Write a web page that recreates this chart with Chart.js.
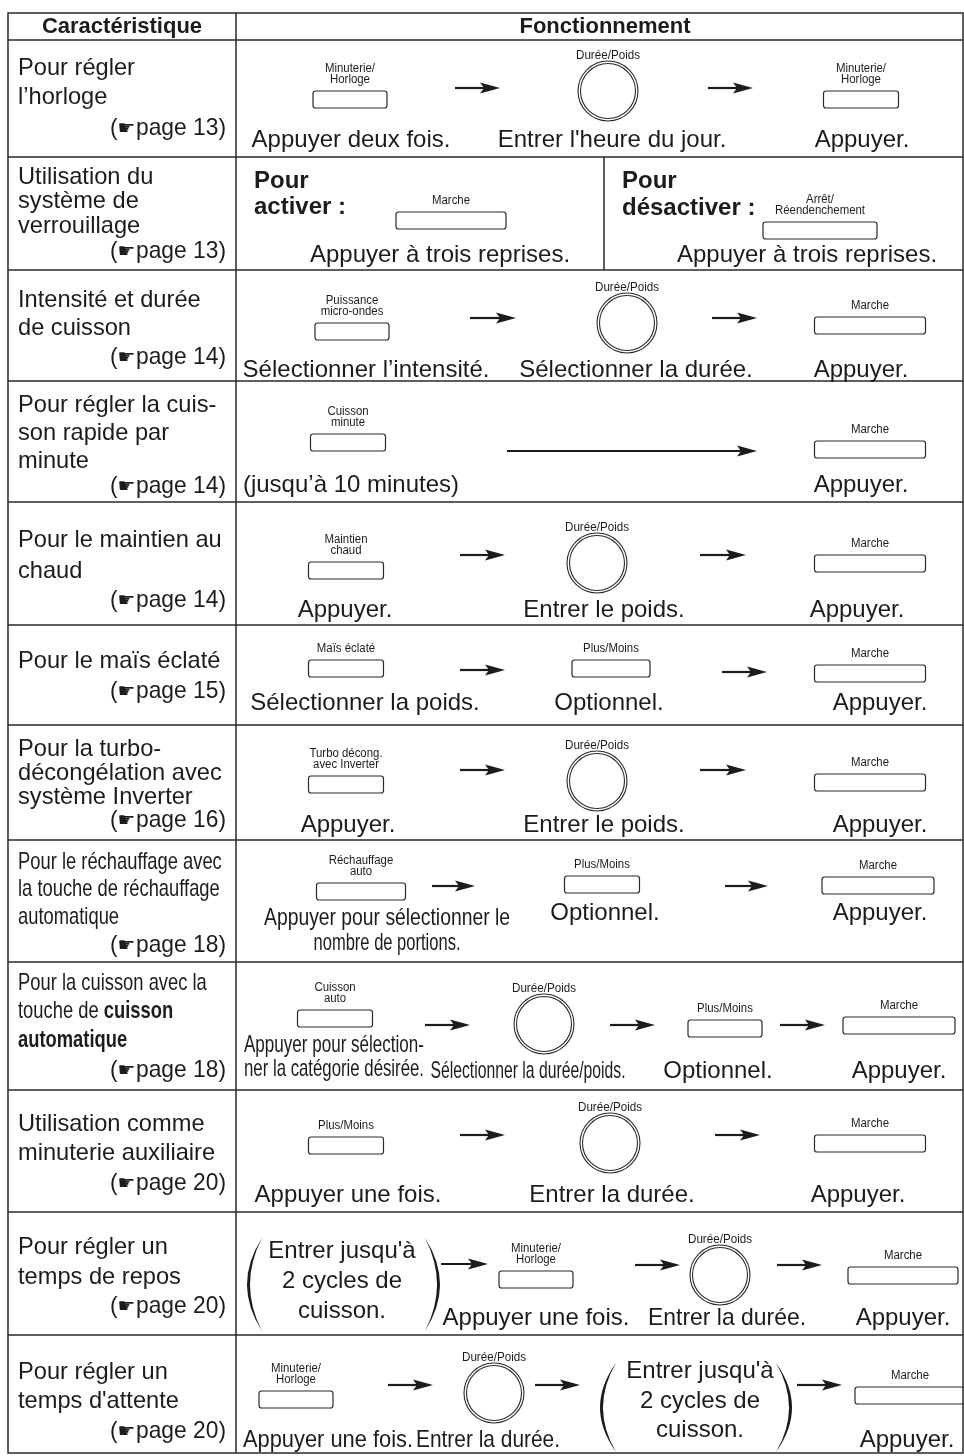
<!DOCTYPE html>
<html>
<head>
<meta charset="utf-8">
<script src="https://cdn.jsdelivr.net/npm/chart.js@4/dist/chart.umd.min.js"></script>
<style>
  html, body { margin: 0; padding: 0; background: #fff; }
  canvas { display: block; }
</style>
</head>
<body>
<canvas id="c" width="964" height="1456"></canvas>
<script>
// column 1 : feature names and page references
var features = [
  ['Pour régler', 'l’horloge'],
  ['Utilisation du', 'système de', 'verrouillage'],
  ['Intensité et durée', 'de cuisson'],
  ['Pour régler la cuis-', 'son rapide par', 'minute'],
  ['Pour le maintien au', 'chaud'],
  ['Pour le maïs éclaté'],
  ['Pour la turbo-', 'décongélation avec', 'système Inverter'],
  ['Pour le réchauffage avec', 'la touche de réchauffage', 'automatique'],
  ['Pour la cuisson avec la', 'touche de **cuisson**', '**automatique**'],
  ['Utilisation comme', 'minuterie auxiliaire'],
  ['Pour régler un', 'temps de repos'],
  ['Pour régler un', 'temps d\'attente']
];
var pages = ['13', '13', '14', '14', '14', '15', '16', '18', '18', '20', '20', '20'];
var headers = ['Caractéristique', 'Fonctionnement'];

// layout of the table (in the chart's own x / y units)
var rowEdges = [40, 157, 270, 381, 502, 625, 725, 840, 962, 1090, 1212, 1335, 1453];
var featY = [68, 177, 300, 405, 540, 661, 749, 862, 983, 1124, 1247, 1372];
var featGap = [29, 24.5, 28, 28, 31, 0, 24, 27.5, 28.5, 29, 30, 29];
var featSx = [0.985, 0.985, 0.985, 0.985, 0.985, 0.985, 0.985, 0.765, 0.765, 0.985, 0.985, 0.985];
var pageY = [128, 251, 357, 486, 600, 691, 820, 945, 1070, 1183, 1306, 1431];

var INK = '#1c1c1c';
var LINE = '#2a2a2a';
var FONT = "'Liberation Sans', Arial, 'DejaVu Sans', sans-serif";

// element builders
function B(x, y, w, label) { return { k: 'btn', x: x, y: y, w: w, label: label }; }
function A(x0, x1, y) { return { k: 'arrow', x0: x0, x1: x1, y: y }; }
function K(x, y) { return { k: 'knob', x: x, y: y, label: 'Durée/Poids' }; }
function C(x, y, s, fit) { return { k: 'cap', x: x, y: y, s: s, fit: fit }; }
function T(x, y, s, o) { return { k: 'txt', x: x, y: y, s: s, o: o || {} }; }
function P(x0, x1, t, b, side) { return { k: 'paren', x0: x0, x1: x1, t: t, b: b, side: side }; }

var boldL = { bold: true, align: 'left', size: 24 };

// column 2 : operating steps, one list per row
var steps = [
  [B(350, 91, 74, ['Minuterie/', 'Horloge']), A(455, 500, 88), K(608, 91), A(708, 753, 88),
   B(861, 91, 75, ['Minuterie/', 'Horloge']),
   C(351, 140, 'Appuyer deux fois.'), C(612, 140, 'Entrer l\'heure du jour.'), C(862, 140, 'Appuyer.')],
  [T(254, 181, 'Pour', boldL), T(254, 207, 'activer :', boldL),
   B(451, 212, 110, ['Marche']), C(440, 255, 'Appuyer à trois reprises.'),
   T(622, 181, 'Pour', boldL), T(622, 208, 'désactiver :', boldL),
   B(820, 222, 114, ['Arrêt/', 'Réendenchement']), C(807, 255, 'Appuyer à trois reprises.')],
  [B(352, 323, 74, ['Puissance', 'micro-ondes']), A(470, 516, 318), K(627, 323), A(712, 757, 318),
   B(870, 317, 111, ['Marche']),
   C(366, 370, 'Sélectionner l’intensité.'), C(636, 370, 'Sélectionner la durée.'), C(861, 370, 'Appuyer.')],
  [B(348, 434, 75, ['Cuisson', 'minute']), A(507, 757, 451), B(870, 441, 111, ['Marche']),
   C(351, 485, '(jusqu’à 10 minutes)'), C(861, 485, 'Appuyer.')],
  [B(346, 562, 75, ['Maintien', 'chaud']), A(460, 505, 555), K(597, 563), A(700, 746, 555),
   B(870, 555, 111, ['Marche']),
   C(345, 610, 'Appuyer.'), C(604, 610, 'Entrer le poids.'), C(857, 610, 'Appuyer.')],
  [B(346, 660, 75, ['Maïs éclaté']), A(460, 505, 670), B(611, 660, 78, ['Plus/Moins']), A(722, 767, 672),
   B(870, 665, 111, ['Marche']),
   C(365, 703, 'Sélectionner la poids.'), C(609, 703, 'Optionnel.'), C(880, 703, 'Appuyer.')],
  [B(346, 776, 75, ['Turbo décong.', 'avec Inverter']), A(460, 505, 770), K(597, 781), A(700, 746, 770),
   B(870, 774, 111, ['Marche']),
   C(348, 825, 'Appuyer.'), C(604, 825, 'Entrer le poids.'), C(880, 825, 'Appuyer.')],
  [B(361, 883, 89, ['Réchauffage', 'auto']), A(432, 475, 886), B(602, 876, 75, ['Plus/Moins']), A(725, 768, 886),
   B(878, 877, 112, ['Marche']),
   C(387, 918, 'Appuyer pour sélectionner le', 246), C(387, 943, 'nombre de portions.', 147),
   C(605, 913, 'Optionnel.'), C(880, 913, 'Appuyer.')],
  [B(335, 1010, 75, ['Cuisson', 'auto']), A(425, 470, 1025), K(544, 1024), A(610, 655, 1025),
   B(725, 1020, 74, ['Plus/Moins']), A(780, 825, 1025), B(899, 1017, 112, ['Marche']),
   C(334, 1045, 'Appuyer pour sélection-', 180), C(334, 1069, 'ner la catégorie désirée.', 180),
   C(528, 1071, 'Sélectionner la durée/poids.', 195), C(718, 1071, 'Optionnel.'), C(899, 1071, 'Appuyer.')],
  [B(346, 1137, 75, ['Plus/Moins']), A(460, 505, 1135), K(610, 1143), A(715, 760, 1135),
   B(870, 1135, 111, ['Marche']),
   C(348, 1195, 'Appuyer une fois.'), C(612, 1195, 'Entrer la durée.'), C(858, 1195, 'Appuyer.')],
  [P(247, 262, 1238, 1331, 'l'), P(425, 440, 1238, 1331, 'r'),
   C(342, 1251, 'Entrer jusqu\'à'), C(342, 1281, '2 cycles de'), C(342, 1311, 'cuisson.'),
   A(441, 488, 1264), B(536, 1271, 74, ['Minuterie/', 'Horloge']), A(635, 680, 1265), K(720, 1275),
   A(777, 822, 1265), B(903, 1267, 110, ['Marche']),
   C(536, 1318, 'Appuyer une fois.', 187), C(727, 1318, 'Entrer la durée.', 158), C(903, 1318, 'Appuyer.')],
  [B(296, 1391, 74, ['Minuterie/', 'Horloge']), A(388, 433, 1385), K(494, 1393), A(535, 580, 1385),
   P(600, 616, 1363, 1452, 'l'), P(776, 792, 1363, 1452, 'r'),
   C(700, 1371, 'Entrer jusqu\'à'), C(700, 1401, '2 cycles de'), C(700, 1430, 'cuisson.'),
   A(797, 842, 1385), B(910, 1387, 110, ['Marche']),
   C(328, 1440, 'Appuyer une fois.', 170), C(488, 1440, 'Entrer la durée.', 144), C(907, 1440, 'Appuyer.')]
];

var knobs = [];
steps.forEach(function (row) {
  row.forEach(function (e) { if (e.k === 'knob') knobs.push({ x: e.x, y: e.y }); });
});

function drawText(ctx, s, x, y, size, o) {
  o = o || {};
  ctx.save();
  ctx.font = (o.bold ? 'bold ' : '') + size + 'px ' + FONT;
  ctx.textBaseline = 'middle';
  ctx.textAlign = 'left';
  ctx.fillStyle = INK;
  var w0 = ctx.measureText(s).width;
  var sx = o.fit ? o.fit / w0 : (o.sx || 1);
  var w = w0 * sx;
  var left = o.align === 'left' ? x : (o.align === 'right' ? x - w : x - w / 2);
  ctx.translate(left, y);
  ctx.scale(sx, 1);
  ctx.fillText(s, 0, 0);
  ctx.restore();
  return w;
}

// line with **bold** parts, left aligned
function drawRich(ctx, line, x, y, size, sx) {
  var parts = line.split('**');
  var cx = x;
  parts.forEach(function (p, i) {
    if (!p) return;
    cx += drawText(ctx, p, cx, y, size, { bold: i % 2 === 1, align: 'left', sx: sx });
  });
}

// "(☛page NN)" right aligned, the hand a bit smaller than the text
function drawPageRef(ctx, page, xr, y) {
  var w = drawText(ctx, 'page ' + page + ')', xr, y, 24, { align: 'right', sx: 0.95 });
  var x = xr - w;
  x -= drawText(ctx, '\u261B', x - 0.5, y + 1, 19, { align: 'right', sx: 1.05 }) + 0.5;
  drawText(ctx, '(', x, y, 24, { align: 'right', sx: 0.95 });
}

var tablePlugin = {
  id: 'tablePlugin',
  beforeDraw: function (chart) {
    var ctx = chart.ctx;
    ctx.save();
    ctx.fillStyle = '#fff';
    ctx.fillRect(0, 0, chart.width, chart.height);
    ctx.restore();
  },
  afterDraw: function (chart) {
    var ctx = chart.ctx;
    var xs = chart.scales.x, ys = chart.scales.y;
    var X = function (v) { return xs.getPixelForValue(v); };
    var Y = function (v) { return ys.getPixelForValue(v); };

    // grid
    ctx.save();
    ctx.strokeStyle = LINE;
    ctx.lineWidth = 1.5;
    ctx.strokeRect(X(8), Y(13), X(963) - X(8), Y(1453) - Y(13));
    ctx.beginPath();
    rowEdges.slice(0, -1).forEach(function (v) {
      ctx.moveTo(X(8), Y(v)); ctx.lineTo(X(963), Y(v));
    });
    ctx.moveTo(X(236), Y(13)); ctx.lineTo(X(236), Y(1453));
    ctx.moveTo(X(604), Y(157)); ctx.lineTo(X(604), Y(270));
    ctx.stroke();
    ctx.restore();

    // headers
    drawText(ctx, headers[0], X(122), Y(27), 22, { bold: true });
    drawText(ctx, headers[1], X(605), Y(27), 22, { bold: true });

    // column 1
    features.forEach(function (lines, i) {
      lines.forEach(function (line, j) {
        drawRich(ctx, line, X(18), Y(featY[i] + j * featGap[i]), 24, featSx[i]);
      });
      drawPageRef(ctx, pages[i], X(226), Y(pageY[i]));
    });

    // column 2
    steps.forEach(function (row) {
      row.forEach(function (e) {
        if (e.k === 'btn') {
          var l = X(e.x - e.w / 2), t = Y(e.y), w = X(e.x + e.w / 2) - l, h = Y(e.y + 17) - t;
          ctx.save();
          ctx.strokeStyle = LINE;
          ctx.lineWidth = 1.2;
          ctx.beginPath();
          ctx.roundRect(l, t, w, h, 2.5);
          ctx.stroke();
          ctx.restore();
          var n = e.label.length;
          e.label.forEach(function (s, j) {
            drawText(ctx, s, X(e.x), Y(e.y - 11 - (n - 1 - j) * 11), 12, { sx: 0.95 });
          });
        } else if (e.k === 'knob') {
          drawText(ctx, e.label, X(e.x), Y(e.y - 35), 12, { sx: 0.97 });
        } else if (e.k === 'arrow') {
          var y = Y(e.y), x0 = X(e.x0), x1 = X(e.x1);
          ctx.save();
          ctx.strokeStyle = INK;
          ctx.fillStyle = INK;
          ctx.lineWidth = 2.2;
          ctx.beginPath();
          ctx.moveTo(x0, y); ctx.lineTo(x1 - 14, y);
          ctx.stroke();
          ctx.beginPath();
          ctx.moveTo(x1, y);
          ctx.lineTo(x1 - 20, y - 5.5);
          ctx.lineTo(x1 - 16, y);
          ctx.lineTo(x1 - 20, y + 5.5);
          ctx.closePath();
          ctx.fill();
          ctx.restore();
        } else if (e.k === 'cap') {
          drawText(ctx, e.s, X(e.x), Y(e.y), 24, { fit: e.fit });
        } else if (e.k === 'txt') {
          drawText(ctx, e.s, X(e.x), Y(e.y), e.o.size || 24, e.o);
        } else if (e.k === 'paren') {
          var t2 = Y(e.t), b2 = Y(e.b), m = (t2 + b2) / 2;
          var inner, outer, end;
          if (e.side === 'l') { end = X(e.x1); outer = X(e.x0); inner = outer + 3; }
          else { end = X(e.x0); outer = X(e.x1); inner = outer - 3; }
          ctx.save();
          ctx.fillStyle = INK;
          ctx.beginPath();
          ctx.moveTo(end, t2);
          ctx.quadraticCurveTo(2 * outer - end, m, end, b2);
          ctx.quadraticCurveTo(2 * inner - end, m, end, t2);
          ctx.closePath();
          ctx.fill();
          ctx.restore();
        }
      });
    });
  }
};

new Chart(document.getElementById('c'), {
  type: 'scatter',
  data: {
    datasets: [
      { data: knobs, pointStyle: 'circle', pointRadius: 30, backgroundColor: 'rgba(0,0,0,0)',
        borderColor: LINE, borderWidth: 1.1 },
      { data: knobs, pointStyle: 'circle', pointRadius: 27.5, backgroundColor: 'rgba(0,0,0,0)',
        borderColor: LINE, borderWidth: 1.1 }
    ]
  },
  options: {
    responsive: false,
    animation: false,
    events: [],
    layout: { padding: 0, autoPadding: false },
    scales: {
      x: { type: 'linear', min: 0, max: 964, display: false },
      y: { type: 'linear', min: 0, max: 1456, reverse: true, display: false }
    },
    plugins: { legend: { display: false }, tooltip: { enabled: false } }
  },
  plugins: [tablePlugin]
});
</script>
</body>
</html>
